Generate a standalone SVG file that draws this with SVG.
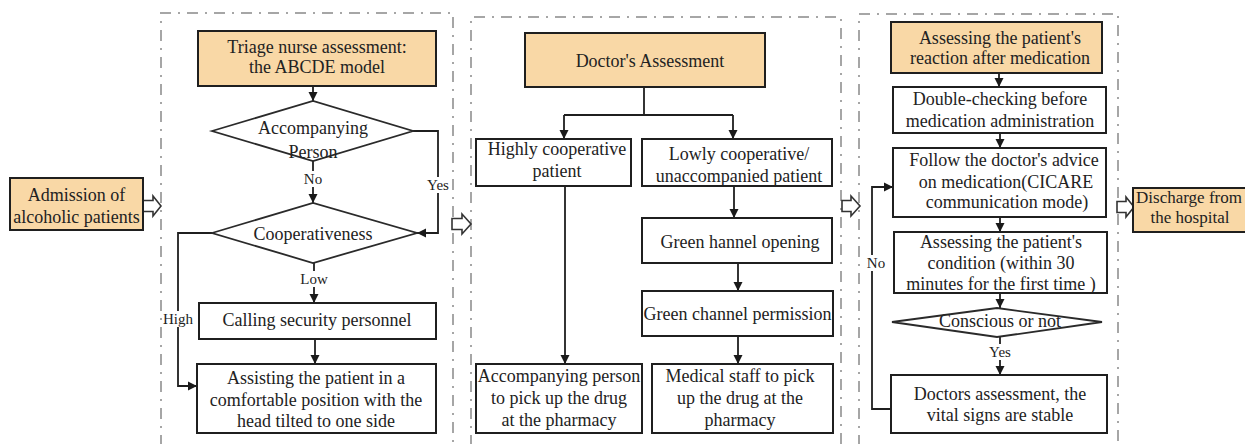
<svg xmlns="http://www.w3.org/2000/svg" width="1245" height="444" viewBox="0 0 1245 444">
<defs>
<marker id="ah" markerUnits="userSpaceOnUse" markerWidth="10" markerHeight="10" refX="9" refY="5" orient="auto">
<path d="M0,0.5 L9,5 L0,9.5 z" fill="#1a1a1a"/>
</marker>
</defs>
<style>
.panel{fill:none;stroke:#a6a6a6;stroke-width:2;stroke-dasharray:11 7 2 7}
.box{fill:#ffffff;stroke:#1f1f1f;stroke-width:2}
.hl{fill:#f9d8a6;stroke:#1f1f1f;stroke-width:2}
.dia{fill:#ffffff;stroke:#2a2a2a;stroke-width:1.8}
.blk{fill:#ffffff;stroke:#333333;stroke-width:1.6}
.t{font-family:"Liberation Serif","Times New Roman",serif;font-size:18px;fill:#222222;text-anchor:middle}
.lb{font-family:"Liberation Serif","Times New Roman",serif;font-size:15px;fill:#222222;text-anchor:middle}
.ln{fill:none;stroke:#1f1f1f;stroke-width:1.8}
.arr{fill:none;stroke:#1f1f1f;stroke-width:1.8;marker-end:url(#ah)}
.bg{fill:#ffffff}
</style>
<rect x="0" y="0" width="1245" height="444" fill="#ffffff"/>

<g id="panels">
<path class="panel" d="M161,446 V13 H453 V446"/>
<path class="panel" d="M471,446 V17 H841 V446"/>
<path class="panel" d="M859,446 V14 H1118 V446"/>
</g>

<g id="block-arrows">
<polygon class="blk" points="143,200.5 153,200.5 153,196 161,206 153,216 153,211.5 143,211.5"/>
<polygon class="blk" points="452,218.5 462,218.5 462,214 471,224 462,234 462,229.5 452,229.5"/>
<polygon class="blk" points="842,200.5 851,200.5 851,196 860,206 851,216 851,211.5 842,211.5"/>
<polygon class="blk" points="1117,201.5 1126,201.5 1126,197 1134,207 1126,217 1126,212.5 1117,212.5"/>
</g>

<g id="connectors">
<line class="arr" x1="313" y1="86" x2="313" y2="101"/>
<line class="arr" x1="313" y1="161" x2="313" y2="203"/>
<polyline class="arr" points="413,131 438,131 438,233 417,233"/>
<polyline class="arr" points="212,233 178,233 178,386 197,386"/>
<line class="arr" x1="314" y1="263" x2="314" y2="303"/>
<line class="arr" x1="315" y1="339" x2="315" y2="364"/>

<line class="ln" x1="644" y1="87" x2="644" y2="115"/>
<line class="ln" x1="564" y1="115" x2="733" y2="115"/>
<line class="arr" x1="564" y1="115" x2="564" y2="139"/>
<line class="arr" x1="733" y1="115" x2="733" y2="139"/>
<line class="arr" x1="565" y1="186" x2="565" y2="364"/>
<line class="arr" x1="734" y1="186" x2="734" y2="218"/>
<line class="arr" x1="738" y1="263" x2="738" y2="291"/>
<line class="arr" x1="738" y1="336" x2="738" y2="364"/>

<line class="arr" x1="999" y1="73" x2="999" y2="87"/>
<line class="arr" x1="1000" y1="133" x2="1000" y2="148"/>
<line class="arr" x1="1000" y1="217" x2="1000" y2="232"/>
<line class="arr" x1="1000" y1="293" x2="1000" y2="308"/>
<line class="arr" x1="1000" y1="337" x2="1000" y2="375"/>
<polyline class="arr" points="891,409 872,409 872,187 893,187"/>

<rect class="bg" x="302" y="171" width="22" height="16"/>
<text class="lb" x="313" y="184">No</text>
<rect class="bg" x="426" y="177" width="24" height="16"/>
<text class="lb" x="438" y="190">Yes</text>
<rect class="bg" x="162" y="311" width="32" height="16"/>
<text class="lb" x="178" y="324">High</text>
<rect class="bg" x="301" y="271" width="26" height="16"/>
<text class="lb" x="314" y="284">Low</text>
<rect class="bg" x="988" y="344" width="24" height="16"/>
<text class="lb" x="1000" y="357">Yes</text>
<rect class="bg" x="865" y="255" width="22" height="16"/>
<text class="lb" x="876" y="268">No</text>
</g>

<g id="admission">
<rect class="hl" x="10" y="178" width="133" height="52"/>
<text class="t" x="76.5" y="201">Admission of</text>
<text class="t" x="76.5" y="223">alcoholic patients</text>
</g>

<g id="triage">
<rect class="hl" x="198" y="31" width="238" height="55"/>
<text class="t" x="317" y="53">Triage nurse assessment:</text>
<text class="t" x="317" y="73">the ABCDE model</text>
</g>

<g id="accompanying">
<polygon class="dia" points="212,131 313,101 413,131 313,161"/>
<text class="t" x="313" y="134">Accompanying</text>
<text class="t" x="313" y="158">Person</text>
</g>

<g id="cooperativeness">
<polygon class="dia" points="212,233 313,203 417,233 313,263"/>
<text class="t" x="313" y="240">Cooperativeness</text>
</g>

<g id="security">
<rect class="box" x="199" y="303" width="237" height="36"/>
<text class="t" x="317" y="326">Calling security personnel</text>
</g>

<g id="assisting">
<rect class="box" x="197" y="364" width="239" height="69"/>
<text class="t" x="316" y="384">Assisting the patient in a</text>
<text class="t" x="316" y="406">comfortable position with the</text>
<text class="t" x="316" y="427">head tilted to one side</text>
</g>

<g id="doctor">
<rect class="hl" x="525" y="33" width="240" height="54"/>
<text class="t" x="650" y="67">Doctor's Assessment</text>
</g>

<g id="highly">
<rect class="box" x="476" y="139" width="155" height="47"/>
<text class="t" x="557" y="155">Highly cooperative</text>
<text class="t" x="557" y="177">patient</text>
</g>

<g id="lowly">
<rect class="box" x="642" y="139" width="190" height="47"/>
<text class="t" x="739" y="160">Lowly cooperative/</text>
<text class="t" x="739" y="182">unaccompanied patient</text>
</g>

<g id="green-opening">
<rect class="box" x="642" y="218" width="190" height="45"/>
<text class="t" x="740" y="248">Green hannel opening</text>
</g>

<g id="green-permission">
<rect class="box" x="642" y="291" width="191" height="45"/>
<text class="t" x="737.5" y="320">Green channel permission</text>
</g>

<g id="accompanying-pickup">
<rect class="box" x="476" y="364" width="166" height="69"/>
<text class="t" x="559" y="382">Accompanying person</text>
<text class="t" x="559" y="404">to pick up the drug</text>
<text class="t" x="559" y="426">at the pharmacy</text>
</g>

<g id="medical-pickup">
<rect class="box" x="652" y="364" width="181" height="69"/>
<text class="t" x="740" y="382">Medical staff to pick</text>
<text class="t" x="740" y="404">up the drug at the</text>
<text class="t" x="740" y="426">pharmacy</text>
</g>

<g id="reaction">
<rect class="hl" x="891" y="22" width="211" height="51"/>
<text class="t" x="1000" y="44">Assessing the patient's</text>
<text class="t" x="1000" y="64">reaction after medication</text>
</g>

<g id="double-check">
<rect class="box" x="893" y="87" width="213" height="46"/>
<text class="t" x="1000" y="105">Double-checking before</text>
<text class="t" x="1000" y="127">medication administration</text>
</g>

<g id="follow">
<rect class="box" x="893" y="148" width="213" height="69"/>
<text class="t" x="1004" y="166">Follow the doctor's advice</text>
<text class="t" x="1006" y="188">on medication(CICARE</text>
<text class="t" x="1007" y="208">communication mode)</text>
</g>

<g id="condition">
<rect class="box" x="894" y="232" width="213" height="61"/>
<text class="t" x="1001" y="248">Assessing the patient's</text>
<text class="t" x="1001" y="269">condition (within 30</text>
<text class="t" x="1001" y="290">minutes for the first time )</text>
</g>

<g id="conscious">
<polygon class="dia" points="892,322 997,308 1102,322 997,337"/>
<text class="t" x="1000" y="327">Conscious or not</text>
</g>

<g id="stable">
<rect class="box" x="891" y="375" width="216" height="58"/>
<text class="t" x="1000" y="400">Doctors assessment, the</text>
<text class="t" x="1000" y="421">vital signs are stable</text>
</g>

<g id="discharge">
<rect class="hl" x="1133" y="188" width="120" height="44"/>
<text class="t" x="1189" y="203" style="font-size:17px">Discharge from</text>
<text class="t" x="1190" y="223" style="font-size:17px">the hospital</text>
</g>
</svg>
